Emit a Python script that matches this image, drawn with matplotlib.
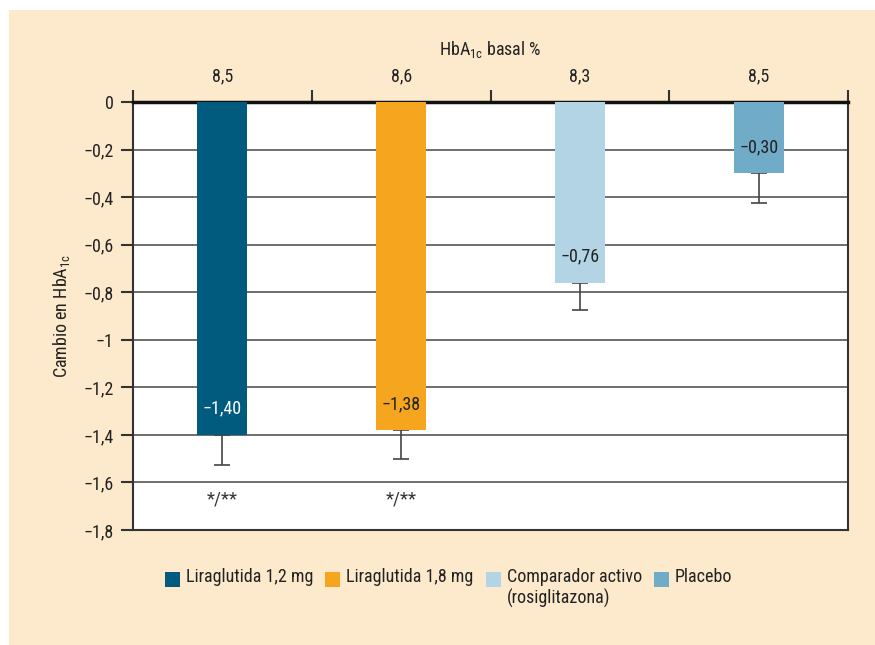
import matplotlib
matplotlib.use("Agg")
import matplotlib.pyplot as plt
from matplotlib.patches import Rectangle
import numpy as np

plt.rcParams['font.family'] = ['Roboto Condensed', 'DejaVu Sans']
plt.rcParams['font.stretch'] = 'condensed'

# data
grupos = ["Liraglutida 1,2 mg", "Liraglutida 1,8 mg",
          "Comparador activo\n(rosiglitazona)", "Placebo"]
basal = ["8,5", "8,6", "8,3", "8,5"]
cambio = [-1.40, -1.38, -0.76, -0.30]
error = [0.125, 0.12, 0.115, 0.125]
etiquetas = ["\u22121,40", "\u22121,38", "\u22120,76", "\u22120,30"]
signif = ["*/**", "*/**", "", ""]
colores = ["#005b7f", "#f6a51f", "#b3d4e4", "#70abc8"]
colores_txt = ["white", "#222222", "#222222", "#222222"]
yticks = [0, -0.2, -0.4, -0.6, -0.8, -1, -1.2, -1.4, -1.6, -1.8]

fig = plt.figure(figsize=(8.75, 6.45), dpi=100)
fig.patch.set_facecolor("white")
fig.add_artist(Rectangle((9/875, 0), 1, 1 - 10/645, transform=fig.transFigure,
                         facecolor="#fde9cc", edgecolor="none", zorder=-10))

ax = fig.add_axes([133/875, 1 - 530/645, 715/875, 428/645])
ax.set_facecolor("white")

x = np.arange(len(cambio)) + 0.5
ax.bar(x, cambio, width=0.28, color=colores, zorder=3)
ax.errorbar(x, cambio, yerr=[error, [0]*4], fmt="none", ecolor="#444444",
            elinewidth=1.2, capsize=6, capthick=1.2, zorder=2)

for xi, v, t, c in zip(x, cambio, etiquetas, colores_txt):
    ax.text(xi, v + 0.11, t, ha="center", va="center", fontsize=13,
            color=c, zorder=4)
for xi, s in zip(x, signif):
    ax.text(xi, -1.67, s, ha="center", va="center", fontsize=13.5, color="#333333")

ax.set_xlim(0, 4)
ax.set_ylim(-1.8, 0)
ax.set_yticks(yticks)
ax.set_yticklabels([("\u2212" + ("%g" % abs(v)).replace(".", ",")) if v < 0 else "0"
                    for v in yticks], fontsize=13, color="#222222")
ax.grid(axis="y", color="#555555", linewidth=1.2, zorder=1)
ax.tick_params(axis="y", direction="out", length=9, width=1.5, color="#333333", pad=5)

# top axis: ticks at boundaries, labels at centres
ax.xaxis.tick_top()
ax.set_xticks([0, 1, 2, 3, 4])
ax.set_xticklabels([])
ax.set_xticks(x, minor=True)
ax.set_xticklabels(basal, minor=True, fontsize=13, color="#222222")
ax.tick_params(axis="x", which="major", direction="out", length=8.5, width=1.5,
               color="#333333")
ax.tick_params(axis="x", which="minor", length=0, pad=12)
ax.xaxis.set_label_position("top")
ax.set_xlabel("HbA$_{\\mathregular{1c}}$ basal %", fontsize=13, color="#222222",
              labelpad=9)
ax.set_ylabel("Cambio en HbA$_{\\mathregular{1c}}$", fontsize=13, color="#222222",
              labelpad=8)

for s in ["left", "right", "bottom"]:
    ax.spines[s].set_color("#333333")
    ax.spines[s].set_linewidth(1.5)
ax.spines["top"].set_color("#111111")
ax.spines["top"].set_linewidth(2.5)

# legend, laid out left to right
r = fig.canvas.get_renderer()
px = 165
for g, c in zip(grupos, colores):
    fig.add_artist(Rectangle((px/875, 1 - 587/645), 15/875, 15/645,
                             transform=fig.transFigure, facecolor=c, edgecolor="none"))
    t = fig.text((px + 21)/875, 1 - 568/645, g, ha="left", va="top", fontsize=13,
                 color="#222222", linespacing=1.2)
    px = px + 21 + t.get_window_extent(r).width + 12

fig.savefig("out.png", dpi=100, facecolor=fig.get_facecolor())
